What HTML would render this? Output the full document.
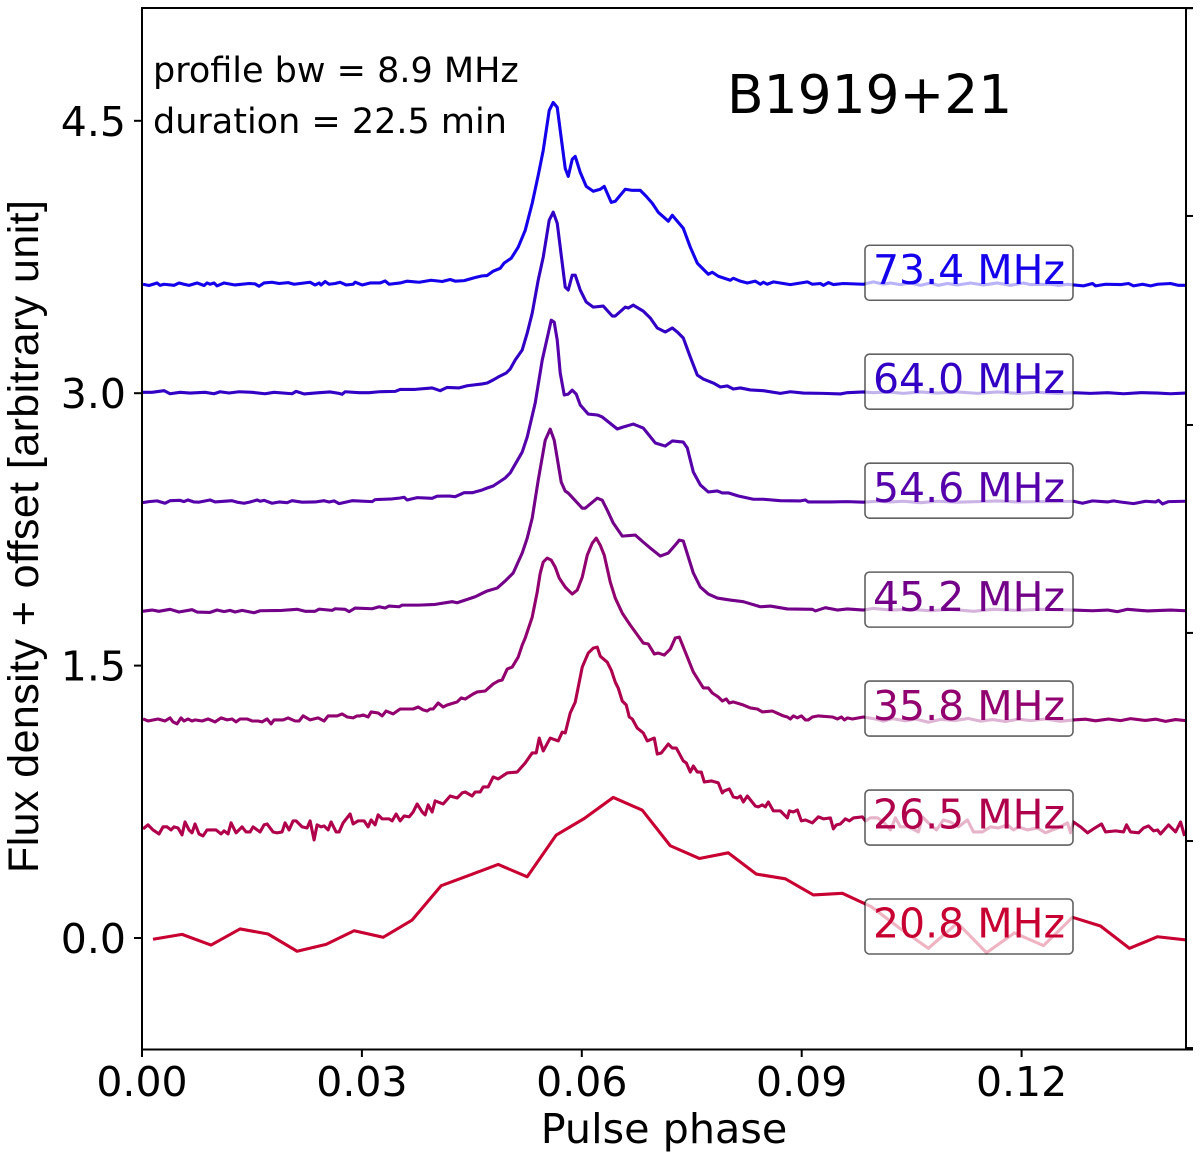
<!DOCTYPE html>
<html lang="en">
<head>
<meta charset="utf-8">
<title>B1919+21 pulse profiles</title>
<style>
html,body{margin:0;padding:0;background:#fff;}
svg{display:block;font-family:"DejaVu Sans","Liberation Sans",sans-serif;}
</style>
</head>
<body>
<svg id="chart" xmlns="http://www.w3.org/2000/svg" width="1200" height="1157" viewBox="0 0 1200 1157">
  <defs><clipPath id="plot-clip"><rect x="142" y="8" width="1044" height="1041"/></clipPath></defs>
  <rect x="0" y="0" width="1200" height="1157" fill="#fff"/>
  <g id="lines" clip-path="url(#plot-clip)"></g>
  <g id="labels"></g>
  <g id="axes"></g>
  <text x="664" y="1143" font-size="41.3" text-anchor="middle" fill="#000">Pulse phase</text>
  <text transform="translate(38,536.5) rotate(-90)" font-family="'Liberation Sans',sans-serif" font-size="43" text-anchor="middle" textLength="673" lengthAdjust="spacing" fill="#000">Flux density + offset [arbitrary unit]</text>
  <text x="727" y="113" font-size="53.4" fill="#000">B1919+21</text>
  <text x="153" y="82" font-size="35" fill="#000">profile bw = 8.9 MHz</text>
  <text x="153" y="133" font-size="35" fill="#000">duration = 22.5 min</text>
</svg>
<script>
const binWidth = 0.000546;
const xTicks = [0, 0.03, 0.06, 0.09, 0.12];
const xTickLabels = ["0.00", "0.03", "0.06", "0.09", "0.12"];
const yTicks = [0, 1.5, 3.0, 4.5];
const yTickLabels = ["0.0", "1.5", "3.0", "4.5"];
const rightTicks = [-0.606, 0.534, 1.68, 2.825, 3.976, 5.12];

const offsets = [3.6, 3.0, 2.4, 1.8, 1.2, 0.6, 0.0];
const frequencies = ["73.4 MHz", "64.0 MHz", "54.6 MHz", "45.2 MHz", "35.8 MHz", "26.5 MHz", "20.8 MHz"];
const colors = ["#1400ea", "#3200c4", "#5500aa", "#730088", "#91006e", "#b0004c", "#c80032"];

const bins734 = [0.25,1.75,3.75,4.5,5.5,8,9.25,10.5,11.75,13.75,15.5,16.25,17,18,18.75,20.5,23.25,26.75,28.25,29.25,30.5,32.5,34.25,36.5,38,42,43.25,44.25,44.75,45.75,46.75,48.25,49.5,51,52.75,53.25,55,57,59.5,60.75,61.75,64.5,66.25,69.25,72.25,75,77,78.25,80.5,83.25,85,86.25,87.75,89.5,90.5,92.25,94,95.75,97.5,99,100.25,101.75,102.75,103.75,104.5,105.75,106.5,107.5,108.25,109.5,111,112.75,114.5,115.5,117.25,118.25,120.75,122.5,124.5,126,127.5,129,131.5,132.5,133.75,135.25,137,138.75,140,141.5,142.5,144,147,147.75,149.5,151.25,153.25,154.5,155.25,156.25,157.75,162,166.25,167.5,169.5,170.25,171.5,172.75,175.25,180.25,182.75,185.25,187,189.5,192,194.5,197,199,201.25,203.75,207,210.25,213.75,217,220.25,222,227,229,231.25,232.75,235.25,237.5,238.25,240.75,244.5,246.5,247.75,250,252,253.75,257,259,260.75];
const flux734 = [0,-0.007,0.007,-0.006,0,-0.006,0.007,0,-0.006,0.007,-0.007,0.007,0,0.007,-0.009,0.007,-0.004,0.004,0.002,-0.011,0.007,0.011,0.004,0.009,0,0.011,-0.004,0.007,-0.004,0.015,0,0.004,0.011,-0.004,0,0.011,-0.004,0.007,0.007,0.018,0,0.007,0.017,0.011,0.022,0.015,0.026,0.017,0.02,0.037,0.046,0.048,0.072,0.088,0.117,0.143,0.204,0.297,0.446,0.6,0.737,0.957,1.001,0.974,0.847,0.638,0.594,0.688,0.704,0.616,0.539,0.512,0.523,0.539,0.451,0.457,0.523,0.517,0.517,0.484,0.446,0.396,0.347,0.38,0.347,0.308,0.204,0.116,0.088,0.055,0.066,0.044,0.022,0.033,0.017,0.007,0.017,0,0.011,0,0.013,-0.002,0.013,0,0.004,-0.006,0.009,-0.002,0.004,0,0.013,0,0.007,-0.002,0.007,-0.006,0.007,-0.006,0.004,-0.004,0.007,-0.004,0.007,-0.006,0.007,-0.002,0,-0.006,0,-0.004,-0.009,0.004,-0.009,0,-0.002,0.004,-0.009,0,-0.009,0,0.004,-0.006,-0.006];

const bins640 = [0,2.5,5.5,7,9.5,12,15.75,18,19.5,21.75,24.25,27.5,30.75,33,37.5,38.5,40.5,44.25,47,49.25,50,50.75,54.25,56.75,59.25,63.25,64.5,68.25,72.5,74.5,76.25,79.25,81.25,85,86.25,87.75,89,91,92,93.25,95,96.25,97.5,99,100.25,101.75,102.75,103.75,104.5,105.75,106.5,107.5,108.25,109.5,111,112.75,115.25,117.5,118.25,120.75,121.5,122.75,125.25,127,128.75,130.75,132.5,133.75,135.25,137,138.75,140.25,142.75,144.5,146.25,147.75,149.5,152,155.25,159.5,162,165.25,170.25,174.5,176.25,180.25,182.75,186.25,190.25,194.5,198.75,203.75,208.75,213.75,218.75,223.75,228.75,232.75,237,241.25,245.25,249.5,253.75,257,260.75];
const flux640 = [0.005,0.005,0.014,-0.003,0.005,0.001,0.005,-0.003,0.008,0.001,0.008,0.005,-0.003,0.005,-0.003,0.01,-0.004,0.003,0.007,-0.001,-0.006,0.008,0.003,0.003,0.008,0.01,0.021,0.021,0.029,0.014,0.032,0.029,0.041,0.051,0.056,0.073,0.089,0.111,0.133,0.183,0.238,0.331,0.441,0.623,0.749,0.953,0.997,0.936,0.804,0.584,0.568,0.65,0.65,0.568,0.502,0.474,0.48,0.425,0.425,0.474,0.469,0.485,0.452,0.414,0.359,0.337,0.359,0.337,0.304,0.199,0.1,0.078,0.056,0.034,0.04,0.023,0.029,0.018,0.014,-0.001,0.008,0.001,-0.001,-0.004,0.003,0.007,0.003,0.007,-0.001,0.007,0.001,0.007,-0.001,0.007,-0.001,0.005,-0.001,0.003,-0.001,0.003,-0.003,0.003,0.001,-0.003,0.001];

const bins546 = [0,1.75,3.75,5.75,7,9.5,10.5,11.5,13,14.25,17,18.25,22.5,23.75,25.5,27,28.75,29.5,30.5,32.5,34.25,36.25,37.5,40,43.25,45.5,46.75,48,49.25,52.5,57.5,58.25,62.5,64.5,65.5,66.25,68.75,72.5,73.75,76.75,78.25,80.5,82.5,85,86.25,87.75,90.75,92,95,96.25,98.25,100,102.25,103,103.75,104.5,105.5,106.5,107.5,108.5,109.5,111.5,113.75,115,118.75,120.25,122.75,125.25,126.25,128.25,130.75,132.5,135.25,136.25,137.75,139.5,141.5,143.75,145,146.5,149,152.75,155.25,159.5,164.5,165.75,166.5,172,176.25,180.25,183.75,187,190.25,194.5,198.75,203.75,208.75,213.75,218.75,223.75,228.75,232.75,235,237.5,241.25,242.75,244.5,247.75,250.75,253.25,254,255,256.5,260.75];
const flux546 = [-0.003,0.003,0.007,-0.006,0.008,0.01,0.003,0.012,0.001,0,0.012,0.001,0.008,0,-0.006,0.001,0.012,0.005,0.01,-0.006,0.001,-0.003,0.008,0,0.001,0.008,0.001,0.007,-0.008,0.008,0.003,0.014,0.018,0.023,0.027,0.012,0.025,0.021,0.033,0.034,0.03,0.052,0.052,0.067,0.078,0.089,0.133,0.161,0.276,0.359,0.546,0.782,1.002,0.991,0.892,0.711,0.59,0.595,0.617,0.595,0.535,0.485,0.48,0.469,0.403,0.414,0.43,0.408,0.381,0.326,0.309,0.337,0.331,0.298,0.166,0.095,0.056,0.062,0.051,0.051,0.034,0.016,0.016,0.008,0.007,0.012,0.001,0.001,0.003,0,0.005,0.001,0.005,-0.003,0.005,0,0.003,0.007,0.001,0.003,0.003,0.005,-0.006,0.007,0.001,0.007,0.001,-0.008,0.005,0.001,0.01,-0.01,0.003,0.005];

const bins452 = [0,2.5,4.25,7,9.25,12.5,13.75,17,18.75,20.5,22,23.25,25,28,29.5,35,38.75,40.75,43.25,44.25,47.5,48.25,50.75,51.75,53.25,57.5,59.25,60.75,61.75,64.25,65,69.25,73.25,77.5,78.75,83.25,85,86.25,88.75,90.75,92.75,95,96.25,97.5,99,100.75,102,103,104.75,105.75,106.5,110,110.75,113.75,115,116.25,117.75,120,123.25,125.25,127,129.5,131.5,133.25,134.25,135.25,137.75,139.5,141.5,143.75,147,150.25,154.5,157,161.25,167.5,168.25,170.75,173.75,176.25,180.25,182.75,187,192,197,202,207.75,212.75,218.75,224.5,232.75,237.5,241.25,243.75,246.25,251.25,257,260.75];
const flux452 = [-0.001,0.006,-0.001,0.01,-0.005,0.008,-0.005,-0.007,0.006,-0.003,0.004,-0.005,0.004,-0.009,0.002,0.004,0.01,-0.001,-0.001,0.011,0.004,0.013,0.01,-0.003,0.017,0.013,0.024,0.017,0.028,0.024,0.033,0.033,0.037,0.052,0.046,0.079,0.098,0.111,0.127,0.166,0.21,0.32,0.402,0.512,0.721,0.941,1.002,0.941,0.71,0.661,0.65,0.567,0.567,0.622,0.611,0.556,0.485,0.413,0.419,0.38,0.347,0.303,0.32,0.364,0.391,0.386,0.21,0.133,0.094,0.072,0.061,0.052,0.024,0.028,0.012,0.01,0.001,0.019,0.006,0.012,0.006,0.015,0.006,0.01,0.002,0.01,-0.001,0.01,0.004,0.01,0.006,0.002,0.006,-0.003,0.01,0.001,0.006,0.002];

const bins358 = [0.25,1.5,4,5.75,7,7.75,8.75,9.75,10.5,11.5,12.5,13.25,15,16.5,18.25,19.75,21.25,22.5,23.5,24.5,26.25,27.5,29,30,31.25,32.25,33,35.25,36.5,38.25,39.25,40.25,42,44,45.5,46.5,48.75,50,51.25,52.75,53.75,54.5,55.25,56.5,57.25,59,60,61,62.75,64.5,67.75,69,70.25,71.25,72,72.75,74,75.25,76.25,78.75,79.75,80.75,82.75,83.75,85.75,87.75,89,90,91.25,92.5,94,95,95.75,97.5,98.75,99.5,100.25,101.25,102.25,103.25,104.25,105.75,107.5,108.75,110,111.25,112.5,113.5,114.5,115.5,117,118.25,120,122,123.25,125.25,126.5,128,129,130.5,132,133.25,134.25,137.75,140.25,141.5,142.5,144,145,146,146.75,147.75,150.25,152,153.75,155,157.5,160.25,161.25,162,162.75,163.75,164.75,165.75,166.5,167.5,169,172.5,173.75,174.75,175.5,176.25,177.5,180.25,183.25,185.25,187.5,190.75,193.25,196.5,199.5,203.25,206.5,209.5,212.5,215.75,219,222,225.75,229.5,232.75,235.75,238.25,241.5,244.5,247,250.75,253.25,255.75,258.25,260.75];
const flux358 = [0.006,-0.005,0.006,-0.005,0.012,-0.01,-0.021,0.012,-0.005,0.006,-0.005,0.001,-0.005,0.006,-0.01,0.012,0.001,0.006,-0.01,0.006,0.006,-0.005,-0.005,-0.01,0.006,-0.021,0.001,0.001,0.012,-0.005,-0.005,0.023,0.001,0.012,-0.005,0.023,0.023,0.034,0.017,0.012,0.023,0.023,0.028,0.017,0.045,0.039,0.023,0.05,0.034,0.061,0.061,0.072,0.056,0.05,0.061,0.061,0.094,0.072,0.083,0.1,0.122,0.116,0.144,0.155,0.16,0.199,0.215,0.221,0.281,0.292,0.347,0.413,0.452,0.567,0.705,0.809,0.87,0.892,0.881,0.842,0.782,0.732,0.694,0.716,0.787,0.908,0.974,1.002,0.963,0.908,0.76,0.672,0.589,0.523,0.485,0.424,0.419,0.364,0.369,0.358,0.391,0.452,0.457,0.265,0.177,0.177,0.149,0.127,0.105,0.116,0.094,0.1,0.083,0.067,0.061,0.045,0.05,0.023,0.017,0.006,0.023,0.012,0.023,0.001,0.001,0.017,0.023,0.017,0.006,0.017,0.001,0.012,0.006,0.017,0.006,-0.006,0.008,-0.004,0.006,-0.012,0.004,-0.002,0.009,-0.006,0.003,-0.008,0.005,-0.003,0.006,-0.007,0.001,0.005,-0.004,0.006,-0.003,0.008,-0.002,0.005,-0.007,0.003,-0.003];

const bins265 = [0.25,1.5,2.75,4.25,5.25,6.25,7.25,8,9,10,10.75,11.75,12.5,13.25,14.25,15.25,16.25,18.5,19.75,20.5,21.5,22.25,23.5,25,26,27,27.75,29.5,30.5,31.25,32.75,33.75,35,35.75,36.75,37.75,38.5,40,41.25,42,43,43.75,44.75,45.5,46.5,47.25,48.5,49.25,50.25,52,52.75,54,55.5,56.5,57.25,58.25,59,60,61.75,62.5,63.5,64.5,65.5,66.75,67.75,68.75,70,70.75,71.5,72.5,73.25,75.25,77,78.75,80,80.75,82.5,83.25,84.5,85.25,86.5,87.75,89,91.25,93.75,95.75,97.5,98.5,99.25,100.25,102,104,105,105.75,107,108.25,110,111.5,112.75,113.75,114.5,116.25,117.25,118.25,119,120,121,121.75,122.5,123.75,125.25,126.25,128,128.75,129.75,131.5,132.5,133.5,135.25,136,137,137.75,138.75,139.75,140.5,142.25,144,145,145.5,146.75,147.75,148.75,149.5,150.25,151.25,153.25,154,155,155.75,156.5,157.75,159.5,161.25,161.75,162.75,163.75,164.75,165.75,167.5,169,170.25,172,172.75,173.5,174.5,175.75,176.75,177.75,180,180.75,182,183.75,185.25,187,188.25,189.5,191.5,194,195,196.5,198.5,200.25,202,204,206.25,207.75,210,212,214,216.25,217.75,219,221.25,223.75,225.75,228.75,231.25,232,232.75,234.5,236.25,237.75,239.75,240.75,243.25,245.25,246,247,249,250.25,251.5,252.75,253.75,254.5,256.5,258.25,259.5,260.5];
const flux265 = [0.001,0.023,-0.005,-0.027,0.012,0.012,-0.005,0.012,0.006,-0.032,0.039,-0.005,-0.021,0.028,-0.027,-0.038,-0.005,-0.005,-0.027,-0.01,-0.027,0.034,-0.021,0.012,-0.016,-0.016,0.012,-0.016,0.023,0.028,-0.016,-0.021,-0.016,0.034,-0.005,0.045,0.045,0.012,0.006,0.045,-0.06,0.023,0.012,0.017,-0.005,0.039,-0.016,-0.016,0.034,0.083,0.028,0.045,0.045,0.012,0.05,0.023,0.078,0.056,0.056,0.045,0.083,0.045,0.072,0.067,0.094,0.138,0.094,0.078,0.133,0.094,0.155,0.138,0.182,0.171,0.199,0.204,0.182,0.204,0.204,0.232,0.232,0.287,0.276,0.309,0.314,0.364,0.419,0.419,0.501,0.43,0.501,0.485,0.534,0.529,0.639,0.699,0.892,0.969,0.996,1.002,0.952,0.919,0.875,0.809,0.776,0.705,0.683,0.617,0.606,0.556,0.529,0.485,0.501,0.413,0.419,0.468,0.446,0.446,0.375,0.364,0.314,0.347,0.314,0.314,0.259,0.265,0.254,0.199,0.21,0.221,0.177,0.171,0.182,0.149,0.182,0.127,0.122,0.133,0.122,0.149,0.1,0.1,0.061,0.1,0.094,0.105,0.045,0.05,0.034,0.067,0.056,0.061,0.001,0.023,0.028,0.056,0.045,0.061,0.067,0.045,0.062,0.062,0.039,-0.005,0.062,0.012,0.012,-0.016,0.067,0.034,-0.005,0.05,0.039,0.012,0.05,-0.016,-0.016,0.012,0.006,0.023,-0.005,0.012,-0.005,0.006,-0.021,0.006,0.034,-0.021,0.039,0.012,-0.021,0.001,0.028,-0.016,-0.01,-0.016,0.023,-0.016,-0.021,0.006,0.017,-0.01,-0.005,-0.027,0.023,-0.016,0.039,-0.038];

const bins208 = [2.75,10,17.25,24.5,31.5,38.75,46,53,60.25,67.5,74.75,82,89,96.25,103.5,110.5,117.75,125,132,139.25,146.5,153.5,160.75,167.75,175,182.25,189.25,196.5,203.75,211,218,225.25,232.5,239.5,246.75,253.75,261];
const flux208 = [-0.007,0.02,-0.039,0.05,0.022,-0.073,-0.035,0.04,0.004,0.099,0.288,0.347,0.405,0.337,0.567,0.658,0.774,0.704,0.508,0.438,0.469,0.352,0.326,0.237,0.246,0.172,0.055,-0.057,0.083,-0.081,0.028,-0.042,0.114,0.066,-0.057,0.007,-0.011];

const seriesBins = [bins734, bins640, bins546, bins452, bins358, bins265, bins208];
const seriesFlux = [flux734, flux640, flux546, flux452, flux358, flux265, flux208];
const seriesNames = ["73-4", "64-0", "54-6", "45-2", "35-8", "26-5", "20-8"];

const NS = "http://www.w3.org/2000/svg";
function xScale(phase) { return 142 + 7330 * phase; }
function yScale(value) { return 938 - 181.6 * value; }

const lineLayer = document.getElementById("lines");
const labelLayer = document.getElementById("labels");
const axisLayer = document.getElementById("axes");

seriesBins.forEach(function (bins, s) {
  const flux = seriesFlux[s];
  let d = "";
  for (let i = 0; i < bins.length; i++) {
    d += (i ? "L" : "M") + xScale(bins[i] * binWidth).toFixed(2) + " " + yScale(offsets[s] + flux[i]).toFixed(2);
  }
  const path = document.createElementNS(NS, "path");
  path.setAttribute("d", d);
  path.setAttribute("fill", "none");
  path.setAttribute("stroke", colors[s]);
  path.setAttribute("stroke-width", "3.1");
  path.setAttribute("stroke-linejoin", "round");
  
  
  lineLayer.appendChild(path);
});

offsets.forEach(function (offset, s) {
  const base = yScale(offset);
  const box = document.createElementNS(NS, "rect");
  box.setAttribute("x", "865");
  box.setAttribute("y", (base - 39).toFixed(2));
  box.setAttribute("width", "208");
  box.setAttribute("height", "55");
  box.setAttribute("rx", "4.5");
  box.setAttribute("fill", "#fff");
  box.setAttribute("fill-opacity", "0.7");
  box.setAttribute("stroke", "#000");
  box.setAttribute("stroke-opacity", "0.62");
  box.setAttribute("stroke-width", "1.6");
  
  
  labelLayer.appendChild(box);
  const label = document.createElementNS(NS, "text");
  label.setAttribute("x", "969");
  label.setAttribute("y", (base - 0.3).toFixed(2));
  label.setAttribute("font-size", "41");
  label.setAttribute("text-anchor", "middle");
  label.setAttribute("fill", colors[s]);
  label.textContent = frequencies[s];
  
  
  labelLayer.appendChild(label);
});

function addLine(x1, y1, x2, y2, width, name) {
  const line = document.createElementNS(NS, "line");
  line.setAttribute("x1", x1);
  line.setAttribute("y1", y1);
  line.setAttribute("x2", x2);
  line.setAttribute("y2", y2);
  line.setAttribute("stroke", "#000");
  line.setAttribute("stroke-width", width);
  
  
  axisLayer.appendChild(line);
}
function addTickLabel(x, y, anchor, content, name) {
  const text = document.createElementNS(NS, "text");
  text.setAttribute("x", x);
  text.setAttribute("y", y);
  text.setAttribute("font-size", "41");
  text.setAttribute("text-anchor", anchor);
  text.setAttribute("fill", "#000");
  text.textContent = content;
  
  
  axisLayer.appendChild(text);
}

addLine(142, 7, 142, 1050.5, 2, "left-spine");
addLine(1186, 7, 1186, 1050.5, 2, "right-spine");
addLine(141, 8, 1193, 8, 2, "top-spine");
addLine(141, 1049.5, 1193, 1049.5, 2, "bottom-spine");

xTicks.forEach(function (tick, i) {
  const x = xScale(tick);
  addLine(x, 1049.5, x, 1057, 2, "x-tick");
  addTickLabel(x, 1096, "middle", xTickLabels[i], "x-tick-label");
});
yTicks.forEach(function (tick, i) {
  const y = yScale(tick);
  addLine(134, y, 142, y, 2, "y-tick");
  addTickLabel(126, y + 15, "end", yTickLabels[i], "y-tick-label");
});
rightTicks.forEach(function (tick) {
  const y = yScale(tick);
  addLine(1186, y, 1193, y, 2, "right-tick");
});
</script>
</body>
</html>
